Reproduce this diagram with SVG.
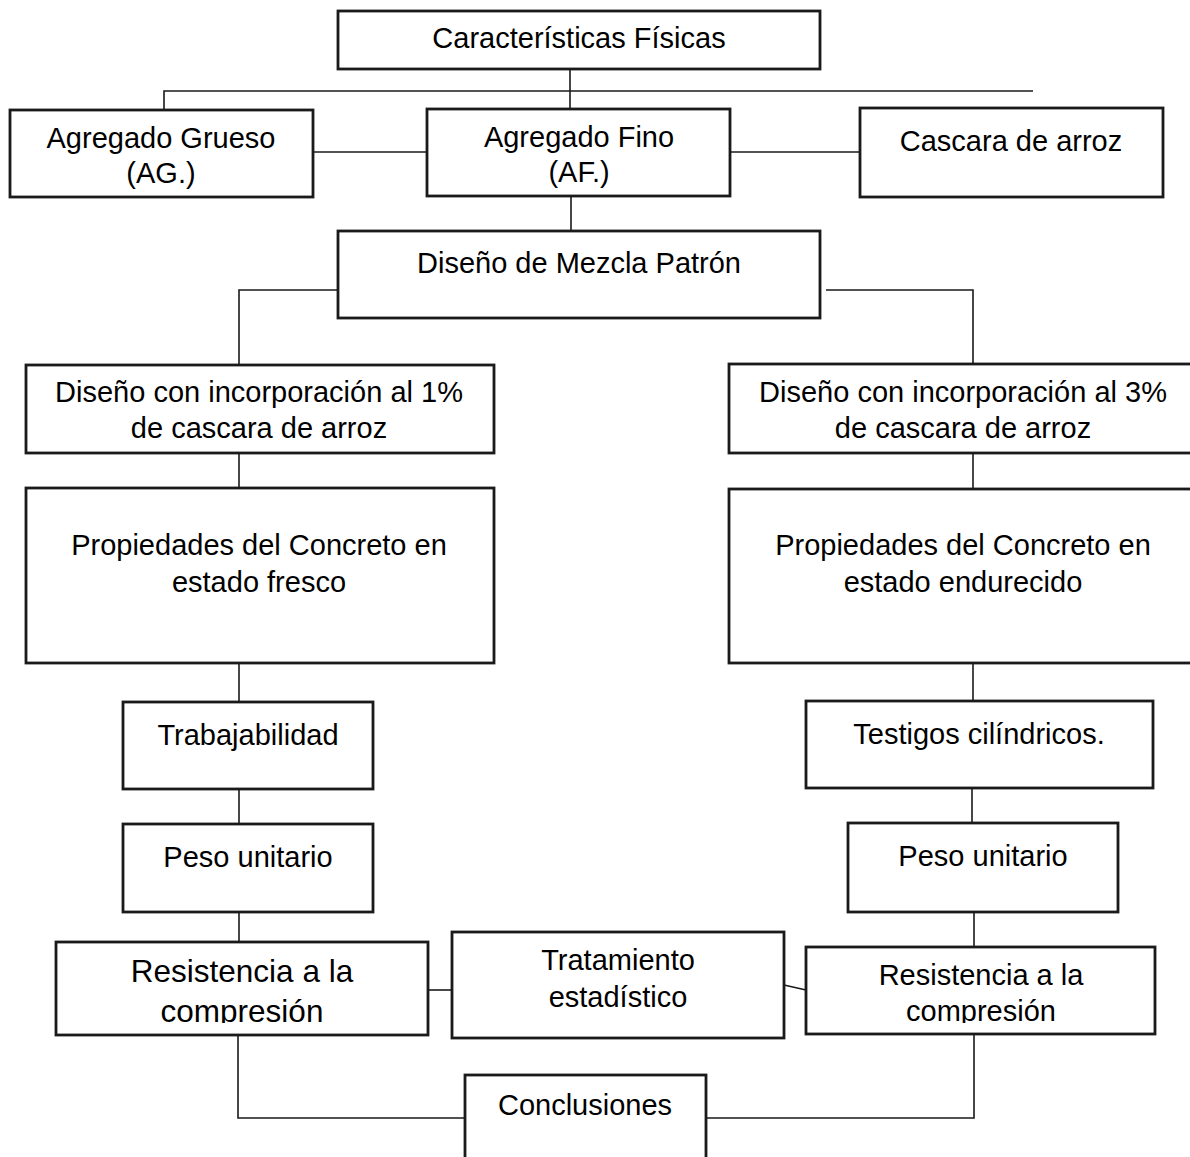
<svg xmlns="http://www.w3.org/2000/svg" width="1190" height="1157" viewBox="0 0 1190 1157">
<style>
.box{fill:#fff;stroke:#1a1a1a;stroke-width:2.8}
.t{font-family:"Liberation Sans",Arial,sans-serif;font-size:29px;fill:#000;text-anchor:middle}
.big{font-size:31.5px}
.c{fill:none;stroke:#1a1a1a;stroke-width:1.6}
</style>
<defs>
<clipPath id="clipL"><rect x="56" y="942" width="372" height="81"/></clipPath>
<clipPath id="clipR"><rect x="806" y="947" width="349" height="76"/></clipPath>
</defs>
<rect width="1190" height="1157" fill="#fff"/>
<g id="connectors">
<path class="c" d="M570 69V109"/>
<path class="c" d="M164 110V91H1033"/>
<path class="c" d="M313 152H427"/>
<path class="c" d="M730 152H860"/>
<path class="c" d="M571 196V242"/>
<path class="c" d="M344 290H239V365"/>
<path class="c" d="M826 290H973V365"/>
<path class="c" d="M239 453V488"/>
<path class="c" d="M973 453V488"/>
<path class="c" d="M239 663V702"/>
<path class="c" d="M973 663V701"/>
<path class="c" d="M239 789V824"/>
<path class="c" d="M972 788V823"/>
<path class="c" d="M239 912V942"/>
<path class="c" d="M974 912V947"/>
<path class="c" d="M428 990H452"/>
<path class="c" d="M784 985L806 990"/>
<path class="c" d="M238 1035V1118H465"/>
<path class="c" d="M974 1034V1118H706"/>
</g>
<g id="n-caracteristicas">
<rect class="box" x="338" y="11" width="482" height="58"/>
<text class="t" x="579" y="48">Características Físicas</text>
</g>
<g id="n-ag">
<rect class="box" x="10" y="110" width="303" height="87"/>
<text class="t" x="161" y="148">Agregado Grueso</text>
<text class="t" x="161" y="183">(AG.)</text>
</g>
<g id="n-af">
<rect class="box" x="427" y="109" width="303" height="87"/>
<text class="t" x="579" y="147">Agregado Fino</text>
<text class="t" x="579" y="182">(AF.)</text>
</g>
<g id="n-cascara">
<rect class="box" x="860" y="108" width="303" height="89"/>
<text class="t" x="1011" y="151">Cascara de arroz</text>
</g>
<g id="n-patron">
<rect class="box" x="338" y="231" width="482" height="87"/>
<text class="t" x="579" y="273">Diseño de Mezcla Patrón</text>
</g>
<g id="n-d1">
<rect class="box" x="26" y="365" width="468" height="88"/>
<text class="t" x="259" y="402">Diseño con incorporación al 1%</text>
<text class="t" x="259" y="438">de cascara de arroz</text>
</g>
<g id="n-d3">
<rect class="box" x="729" y="364" width="470" height="89"/>
<text class="t" x="963" y="402">Diseño con incorporación al 3%</text>
<text class="t" x="963" y="438">de cascara de arroz</text>
</g>
<g id="n-fresco">
<rect class="box" x="26" y="488" width="468" height="175"/>
<text class="t" x="259" y="555">Propiedades del Concreto en</text>
<text class="t" x="259" y="592">estado fresco</text>
</g>
<g id="n-endurecido">
<rect class="box" x="729" y="489" width="470" height="174"/>
<text class="t" x="963" y="555">Propiedades del Concreto en</text>
<text class="t" x="963" y="592">estado endurecido</text>
</g>
<g id="n-trabajabilidad">
<rect class="box" x="123" y="702" width="250" height="87"/>
<text class="t" x="248" y="745">Trabajabilidad</text>
</g>
<g id="n-testigos">
<rect class="box" x="806" y="701" width="347" height="87"/>
<text class="t" x="979" y="744">Testigos cilíndricos.</text>
</g>
<g id="n-peso-l">
<rect class="box" x="123" y="824" width="250" height="88"/>
<text class="t" x="248" y="867">Peso unitario</text>
</g>
<g id="n-peso-r">
<rect class="box" x="848" y="823" width="270" height="89"/>
<text class="t" x="983" y="866">Peso unitario</text>
</g>
<g id="n-res-l">
<rect class="box" x="56" y="942" width="372" height="93"/>
<g clip-path="url(#clipL)">
<text class="t big" x="242" y="982">Resistencia a la</text>
<text class="t big" x="242" y="1022">compresión</text>
</g>
</g>
<g id="n-tratamiento">
<rect class="box" x="452" y="932" width="332" height="106"/>
<text class="t" x="618" y="970">Tratamiento</text>
<text class="t" x="618" y="1007">estadístico</text>
</g>
<g id="n-res-r">
<rect class="box" x="806" y="947" width="349" height="87"/>
<g clip-path="url(#clipR)">
<text class="t" x="981" y="985">Resistencia a la</text>
<text class="t" x="981" y="1021">compresión</text>
</g>
</g>
<g id="n-conclusiones">
<rect class="box" x="465" y="1075" width="241" height="100"/>
<text class="t" x="585" y="1115">Conclusiones</text>
</g>
</svg>
